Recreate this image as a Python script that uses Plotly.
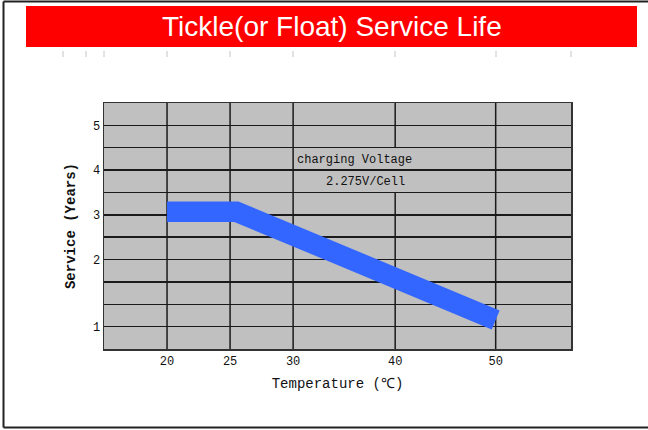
import numpy as np
import plotly.graph_objects as go

# ---- data ----
temps = [20, 25.5, 50]
service_years = [3.07, 3.07, 1.10]

x_tick_temps = [20, 25, 30, 40, 50]
x_tick_labels = ["20", "25", "30", "40", "50"]
y_tick_years = [1, 2, 3, 4, 5]
y_tick_labels = ["1", "2", "3", "4", "5"]

title_text = "Tickle(or Float) Service Life"
note_line1 = "charging Voltage"
note_line2 = "2.275V/Cell"

# ---- non-uniform axis scales of the original chart ----
X_BREAK_TEMPS = [20, 25, 30, 40, 50]
X_BREAK_POS = [1, 2, 3, 4.619, 6.213]
X_RANGE = [0, 7.408]
Y_BREAK_YEARS = [1, 2, 3, 4, 5]
Y_BREAK_POS = [1, 4, 6, 8, 10]
Y_RANGE = [0, 11]


def xs(t):
    return np.interp(t, X_BREAK_TEMPS, X_BREAK_POS)


def ys(v):
    return np.interp(v, Y_BREAK_YEARS, Y_BREAK_POS)


W, H = 648, 430
ML, MR, MT, MB = 104, 77, 103, 81
PW, PH = W - ML - MR, H - MT - MB


def px(x):
    return (x - ML) / PW


def py(y):
    return 1 - (y - MT) / PH


MONO = "Liberation Mono, DejaVu Sans Mono, monospace"
GRID = "#1a1a1a"

fig = go.Figure()
fig.add_trace(go.Scatter(
    x=xs(temps), y=ys(service_years), mode="lines",
    line=dict(color="#3366ff", width=20.5),
    hoverinfo="skip", showlegend=False,
))

shapes = []
# vertical grid lines
for t in x_tick_temps:
    xp = float(xs(t))
    if t == 40:
        segs = [(0, 7), (9, 11)]
    else:
        segs = [(0, 11)]
    for a, b in segs:
        shapes.append(dict(type="line", xref="x", yref="y", x0=xp, x1=xp, y0=a, y1=b,
                           line=dict(color=GRID, width=1.5), layer="between"))

# white strip at the right edge of the page
shapes.append(dict(type="rect", xref="paper", yref="paper",
                   x0=px(639), x1=px(660), y0=py(440), y1=py(-10),
                   fillcolor="white", line=dict(width=0), layer="above"))
# red title bar
shapes.append(dict(type="rect", xref="paper", yref="paper",
                   x0=px(26), x1=px(637), y0=py(47), y1=py(6),
                   fillcolor="#ff0000", line=dict(width=0), layer="above"))
# outer frame (left, top, bottom edges; right edge lies beyond the picture)
for (x0, y0, x1, y1) in [(3.5, 1.5, 3.5, 427.5), (3.5, 1.5, 648, 1.5), (3.5, 427.5, 648, 427.5)]:
    shapes.append(dict(type="line", xref="paper", yref="paper",
                       x0=px(x0), x1=px(x1), y0=py(y0), y1=py(y1),
                       line=dict(color="#222", width=2), layer="above"))
# faint stray tick marks under title
for sx in [63, 86, 104, 167, 230, 293, 395, 496, 571]:
    shapes.append(dict(type="line", xref="paper", yref="paper",
                       x0=px(sx), x1=px(sx), y0=py(57), y1=py(51),
                       line=dict(color="#c4c4c4", width=1), layer="above"))

annotations = [
    dict(text=title_text, xref="paper", yref="paper", x=px(331.5), y=py(26.5),
         xanchor="center", yanchor="middle", showarrow=False,
         font=dict(family="Liberation Sans, Arial, sans-serif", size=28, color="white")),
    dict(text=note_line1, xref="paper", yref="paper", x=px(354.5), y=py(160),
         xanchor="center", yanchor="middle", showarrow=False,
         font=dict(family=MONO, size=12, color="#111")),
    dict(text=note_line2, xref="paper", yref="paper", x=px(365.5), y=py(182),
         xanchor="center", yanchor="middle", showarrow=False,
         font=dict(family=MONO, size=12, color="#111")),
]

row_vals = list(range(1, 11))
label_map = {float(ys(v)): l for v, l in zip(y_tick_years, y_tick_labels)}
row_text = [label_map.get(float(r), "") for r in row_vals]

fig.update_layout(
    width=W, height=H,
    margin=dict(l=ML, r=MR, t=MT, b=MB, pad=0),
    paper_bgcolor="white", plot_bgcolor="#c0c0c0",
    shapes=shapes, annotations=annotations, showlegend=False,
    xaxis=dict(range=X_RANGE, tickmode="array", tickvals=xs(x_tick_temps), ticktext=x_tick_labels,
               showgrid=False, zeroline=False, showline=True, linecolor="#333", linewidth=1.5,
               mirror=True, ticks="", tickfont=dict(family=MONO, size=12, color="#111"),
               title=dict(text="Temperature (℃)", standoff=10,
                          font=dict(family=MONO, size=14, color="#111"))),
    yaxis=dict(range=Y_RANGE, tickmode="array", tickvals=row_vals, ticktext=row_text,
               showgrid=True, gridcolor=GRID, gridwidth=1.5, zeroline=False,
               showline=True, linecolor="#333", linewidth=1.5, mirror=True, ticks="",
               tickfont=dict(family=MONO, size=12, color="#111"),
               title=dict(text="<b>Service (Years)</b>", standoff=14,
                          font=dict(family=MONO, size=14, color="#111"))),
)

fig.write_html("out.html", config={"displayModeBar": False, "staticPlot": True},
               post_script="document.body.style.margin='0';document.body.style.overflow='hidden';")
